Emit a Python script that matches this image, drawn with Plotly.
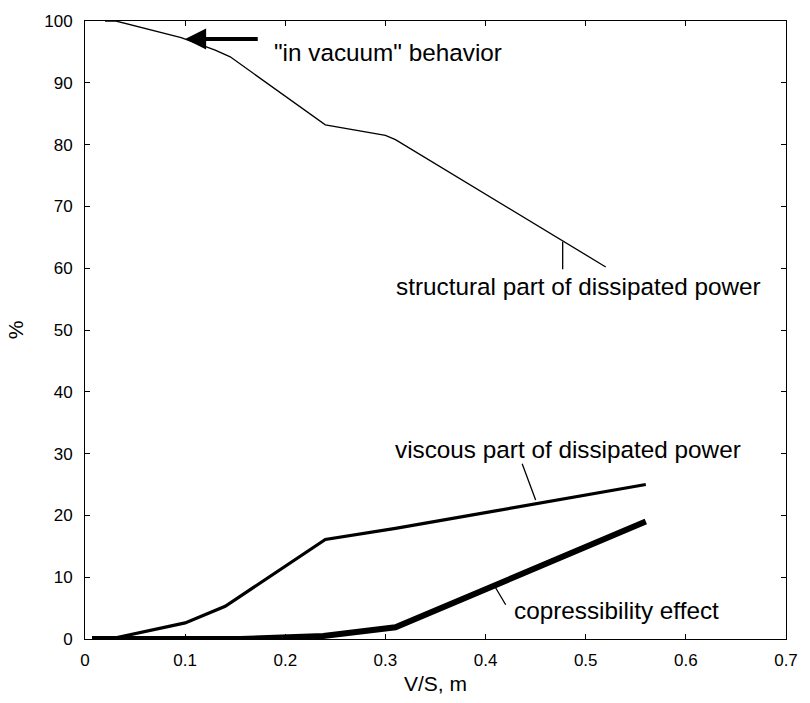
import plotly.graph_objects as go

# Structural part of dissipated power (thin line)
struct_x = [0.02, 0.031, 0.096, 0.13, 0.145, 0.24, 0.30, 0.31, 0.52]
struct_y = [100.0, 100.0, 97.3, 95.3, 94.2, 83.2, 81.5, 80.8, 60.2]

# Viscous part of dissipated power (medium line)
visc_x = [0.025, 0.10, 0.14, 0.24, 0.31, 0.56]
visc_y = [0.0, 2.6, 5.3, 16.1, 17.9, 25.0]

# Compressibility effect (thick line)
comp_x = [0.007, 0.155, 0.238, 0.31, 0.56]
comp_y = [0.0, 0.0, 0.5, 1.9, 19.0]

x_ticks = [0, 0.1, 0.2, 0.3, 0.4, 0.5, 0.6, 0.7]
y_ticks = [0, 10, 20, 30, 40, 50, 60, 70, 80, 90, 100]

FONT = "Liberation Sans, Arial, Helvetica, sans-serif"

fig = go.Figure()
fig.add_trace(go.Scatter(x=struct_x, y=struct_y, mode="lines",
                         line=dict(color="black", width=1.3), showlegend=False))
fig.add_trace(go.Scatter(x=visc_x, y=visc_y, mode="lines",
                         line=dict(color="black", width=3.2), showlegend=False))
fig.add_trace(go.Scatter(x=comp_x, y=comp_y, mode="lines",
                         line=dict(color="black", width=6), showlegend=False))

ann_font = dict(family=FONT, size=24.3, color="black")

annotations = [
    # arrow for "in vacuum" behavior
    dict(x=0.1, y=97.1, ax=0.174, ay=97.1, xref="x", yref="y", axref="x", ayref="y",
         text="", showarrow=True, arrowhead=2, arrowwidth=4, arrowsize=1.05,
         arrowcolor="black"),
    dict(x=0.187, y=94.9, xref="x", yref="y", text='"in vacuum" behavior',
         showarrow=False, xanchor="left", yanchor="middle", font=ann_font),
    # structural label + leader
    dict(x=0.477, y=64.3, ax=0.477, ay=59.6, xref="x", yref="y", axref="x", ayref="y",
         text="", showarrow=True, arrowhead=0, arrowwidth=1.3, arrowcolor="black"),
    dict(x=0.309, y=57.0, xref="x", yref="y", text="structural part of dissipated power",
         showarrow=False, xanchor="left", yanchor="middle", font=ann_font),
    # viscous label + leader
    dict(x=0.450, y=22.5, ax=0.436, ay=28.6, xref="x", yref="y", axref="x", ayref="y",
         text="", showarrow=True, arrowhead=0, arrowwidth=1.3, arrowcolor="black"),
    dict(x=0.308, y=30.7, xref="x", yref="y", text="viscous part of dissipated power",
         showarrow=False, xanchor="left", yanchor="middle", font=ann_font),
    # compressibility label + leader
    dict(x=0.410, y=8.3, ax=0.421, ay=5.3, xref="x", yref="y", axref="x", ayref="y",
         text="", showarrow=True, arrowhead=0, arrowwidth=1.3, arrowcolor="black"),
    dict(x=0.426, y=4.6, xref="x", yref="y", text="copressibility effect",
         showarrow=False, xanchor="left", yanchor="middle", font=ann_font),
]

axis_common = dict(showline=True, linecolor="black", linewidth=1, mirror="ticks",
                   ticks="inside", ticklen=5, tickwidth=1, tickcolor="black",
                   showgrid=False, zeroline=False,
                   tickfont=dict(family=FONT, size=17, color="black"))

fig.update_layout(
    width=810, height=703,
    margin=dict(l=85, r=14, t=21, b=60),
    paper_bgcolor="white", plot_bgcolor="white",
    font=dict(family=FONT, color="black"),
    xaxis=dict(range=[0, 0.7], tickvals=x_ticks, ticktext=[str(v) for v in x_ticks],
               title=dict(text="V/S, m", font=dict(family=FONT, size=21), standoff=6),
               ticklabelstandoff=6, **axis_common),
    yaxis=dict(range=[0, 100], tickvals=y_ticks, ticktext=[str(v) for v in y_ticks],
               title=dict(text="%", font=dict(family=FONT, size=21), standoff=14),
               ticklabelstandoff=8, **axis_common),
    annotations=annotations,
)

fig.write_html("out.html")
